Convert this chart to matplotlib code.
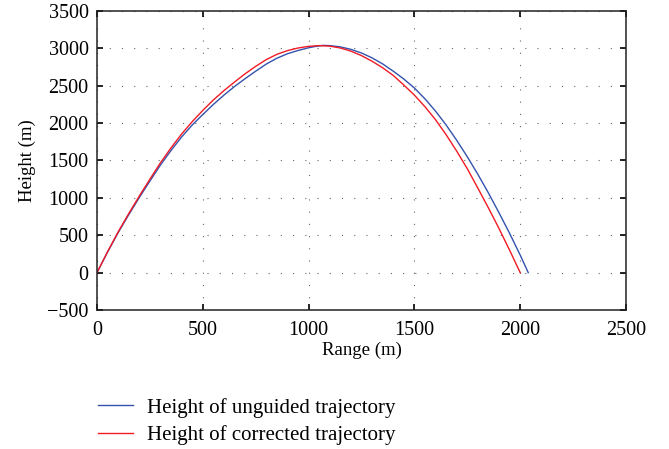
import numpy as np
import matplotlib.pyplot as plt

plt.rcParams['font.family'] = ['Liberation Serif', 'DejaVu Serif']
plt.rcParams['font.size'] = 14

# trajectory samples: range (m) and height (m)
range_unguided = [0, 50, 100, 150, 200, 250, 300, 350, 400, 450, 500, 550, 600,
                  650, 700, 750, 800, 850, 900, 950, 1000, 1030, 1068, 1100,
                  1150, 1200, 1250, 1300, 1350, 1400, 1450, 1500, 1550, 1600,
                  1650, 1700, 1750, 1800, 1850, 1900, 1950, 2000, 2038]
height_unguided = [0, 275, 535, 775, 1005, 1225, 1440, 1635, 1815, 1975, 2115,
                   2250, 2375, 2490, 2595, 2695, 2790, 2868, 2928, 2972, 3008,
                   3025, 3040, 3037, 3020, 2987, 2938, 2873, 2792, 2695, 2590,
                   2470, 2325, 2160, 1975, 1770, 1550, 1315, 1065, 800, 525,
                   235, 0]

range_corrected = [0, 50, 100, 150, 200, 250, 300, 350, 400, 450, 500, 550, 600,
                   650, 700, 750, 800, 850, 900, 950, 1000, 1050, 1100, 1150,
                   1200, 1250, 1300, 1350, 1400, 1450, 1500, 1550, 1600, 1650,
                   1700, 1750, 1800, 1850, 1900, 1950, 2000]
height_corrected = [0, 280, 545, 790, 1025, 1250, 1470, 1670, 1855, 2020, 2170,
                    2310, 2435, 2550, 2660, 2760, 2850, 2920, 2970, 3005, 3027,
                    3037, 3030, 3005, 2963, 2903, 2828, 2740, 2638, 2510, 2375,
                    2220, 2045, 1845, 1625, 1390, 1130, 865, 590, 300, 0]

fig = plt.figure(figsize=(6.69, 4.49), dpi=100)
ax = fig.add_axes([0.145, 0.3096, 0.7907, 0.6659])

ax.plot(range_unguided, height_unguided, color='#3352ad', lw=1.0,
        label='Height of unguided trajectory')
ax.plot(range_corrected, height_corrected, color='#f21a24', lw=1.0,
        label='Height of corrected trajectory')

ax.set_xlim(0, 2500)
ax.set_ylim(-500, 3500)
ax.set_xticks(np.arange(0, 2501, 500))
ax.set_yticks(np.arange(-500, 3501, 500))
ax.tick_params(direction='in', top=True, right=True, length=4, width=1.2,
               pad=6, labelsize=14.5)
ax.tick_params(axis='x', pad=8)
ax.grid(True, color='#666666', linestyle=(0, (1, 10)), linewidth=0.8)
for s in ax.spines.values():
    s.set_linewidth(1.1)
    s.set_color('#222222')

ax.set_xlabel('Range (m)', fontsize=13.5, labelpad=1)
ax.set_ylabel('Height (m)', fontsize=13.5, labelpad=8)

ax.legend(loc='upper left', bbox_to_anchor=(0.1465, 0.114), bbox_transform=fig.transFigure,
          frameon=False, fontsize=15, handlelength=1.68, handletextpad=0.67,
          labelspacing=0.37, borderaxespad=0, borderpad=0)

fig.savefig('out.png', dpi=100)
